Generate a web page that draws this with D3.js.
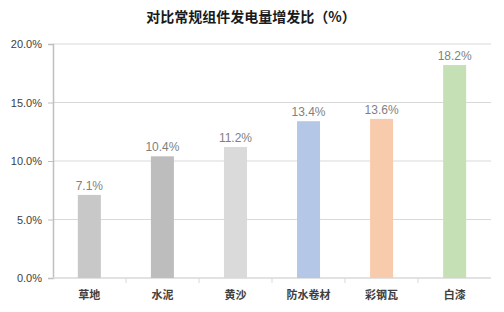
<!DOCTYPE html>
<html>
<head>
<meta charset="utf-8">
<script src="https://cdn.jsdelivr.net/npm/d3@7"></script>
<style>
  body { margin: 0; background: #fff; }
  svg { display: block; }
</style>
</head>
<body>
<svg id="chart" width="504" height="312"></svg>
<script>
const categories = ['草地', '水泥', '黄沙', '防水卷材', '彩钢瓦', '白漆'];
const values = [7.1, 10.4, 11.2, 13.4, 13.6, 18.2];
const barColors = ['#c8c8c8', '#bdbdbd', '#dadada', '#b4c7e7', '#f8cbad', '#c5e0b4'];
const yTicks = [0, 5, 10, 15, 20];
const title = '对比常规组件发电量增发比（%）';

const margin = {top: 44, right: 13, bottom: 34, left: 53};
const svg = d3.select('#chart');
const width = +svg.attr('width') - margin.left - margin.right;
const height = +svg.attr('height') - margin.top - margin.bottom;

const g = svg.append('g').attr('transform', `translate(${margin.left},${margin.top})`);

const x = d3.scaleBand().domain(categories).range([0, width]).paddingInner(0.685).paddingOuter(0.34);
const xOuter = d3.scaleBand().domain(categories).range([0, width]);
const y = d3.scaleLinear().domain([0, 20]).range([height, 0]);

// title
svg.append('text')
  .attr('x', 251).attr('y', 22)
  .attr('text-anchor', 'middle')
  .style('font-family', '"Noto Sans CJK SC", sans-serif')
  .style('font-size', '14px')
  .style('font-weight', 'bold')
  .style('fill', '#1a1a1a')
  .text(title);

// gridlines
g.selectAll('.grid').data(yTicks.filter(d => d > 0)).enter()
  .append('line')
  .attr('x1', 0).attr('x2', width)
  .attr('y1', d => y(d)).attr('y2', d => y(d))
  .style('stroke', '#d9d9d9').style('stroke-width', 1);

// y axis
const yAxis = g.append('g')
  .call(d3.axisLeft(y).tickValues(yTicks).tickFormat(d => d.toFixed(1) + '%').tickSize(5).tickPadding(6));
yAxis.select('.domain').style('stroke', '#bfbfbf').style('stroke-width', 1.5);
yAxis.selectAll('.tick line').style('stroke', '#bfbfbf');
yAxis.selectAll('text')
  .style('font-family', '"Liberation Sans", Arial, sans-serif')
  .style('font-size', '11px')
  .style('fill', '#404040');

// x axis baseline and separators
g.append('line')
  .attr('x1', 0).attr('x2', width)
  .attr('y1', height).attr('y2', height)
  .style('stroke', '#d9d9d9').style('stroke-width', 1.5);
g.selectAll('.sep').data(categories.slice(1)).enter()
  .append('line')
  .attr('x1', d => xOuter(d)).attr('x2', d => xOuter(d))
  .attr('y1', height).attr('y2', height + 5)
  .style('stroke', '#d9d9d9');

// bars
g.selectAll('.bar').data(values).enter()
  .append('rect')
  .attr('x', (d, i) => x(categories[i]))
  .attr('y', d => y(d))
  .attr('width', x.bandwidth())
  .attr('height', d => height - y(d))
  .style('fill', (d, i) => barColors[i]);

// value labels
g.selectAll('.val').data(values).enter()
  .append('text')
  .attr('x', (d, i) => x(categories[i]) + x.bandwidth() / 2)
  .attr('y', d => y(d) - 5)
  .attr('text-anchor', 'middle')
  .style('font-family', '"Liberation Sans", Arial, sans-serif')
  .style('font-size', '12px')
  .style('fill', '#7f7f7f')
  .text(d => d.toFixed(1) + '%');

// category labels
g.selectAll('.cat').data(categories).enter()
  .append('text')
  .attr('x', d => x(d) + x.bandwidth() / 2)
  .attr('y', height + 21)
  .attr('text-anchor', 'middle')
  .style('font-family', '"Noto Sans CJK SC", sans-serif')
  .style('font-size', '11px')
  .style('font-weight', 'bold')
  .style('fill', '#404040')
  .text(d => d);
</script>
</body>
</html>
